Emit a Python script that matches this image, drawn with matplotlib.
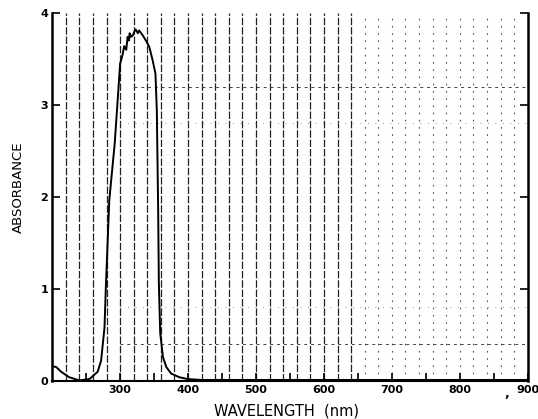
import matplotlib
matplotlib.use("Agg")
import matplotlib.pyplot as plt

# absorbance spectrum
wavelength = [200, 206, 213, 225, 240, 255, 267, 272, 277, 279, 284, 292, 297, 300,
              302, 304, 306, 309, 311, 313, 314, 316, 319, 321, 323, 326, 328, 330,
              333, 338, 343, 348, 352, 354, 356, 357, 359, 363, 368, 375, 387, 399,
              420, 500, 600, 700, 800, 900]
absorbance = [0.16, 0.15, 0.10, 0.04, 0.005, 0.02, 0.10, 0.22, 0.58, 1.02, 1.96, 2.58, 3.12, 3.45,
              3.50, 3.56, 3.64, 3.60, 3.74, 3.70, 3.78, 3.74, 3.76, 3.80, 3.82, 3.78, 3.81, 3.79,
              3.76, 3.70, 3.63, 3.48, 3.34, 2.94, 1.85, 1.06, 0.52, 0.26, 0.15, 0.08, 0.04, 0.02,
              0.01, 0.01, 0.01, 0.01, 0.01, 0.01]

x_ticks = [300, 400, 500, 600, 700, 800, 900]
x_minor = [250, 350, 450, 550, 650, 750, 850]
y_ticks = [0, 1, 2, 3, 4]
grid_dark = [220, 240, 260, 280, 300, 320, 340, 360, 380, 400, 420, 440, 460, 480,
             500, 520, 540, 560, 580, 600, 620, 640]
grid_faint = [660, 680, 700, 720, 740, 760, 780, 800, 820, 840, 860, 880]

fig = plt.figure(figsize=(5.38, 4.19), dpi=100)
ax = fig.add_axes([0.097, 0.091, 0.884, 0.878])

# chart-paper grid, as it came out of the copier
for g in grid_dark:
    ax.axvline(g, color="#222222", lw=0.9, ls=(0, (6, 1.5)), zorder=1)
for g in grid_faint:
    ax.axvline(g, color="#555555", lw=0.8, ls=(0, (1.5, 5)), zorder=1)
ax.plot([320, 900], [3.2, 3.2], color="#444444", lw=0.7, ls=(0, (3, 4)), zorder=1)
ax.plot([300, 900], [0.4, 0.4], color="#444444", lw=0.7, ls=(0, (3, 4)), zorder=1)
ax.plot([300, 900], [0.8, 0.8], color="#777777", lw=0.6, ls=(0, (1, 8)), zorder=1)
ax.plot([300, 900], [2.8, 2.8], color="#777777", lw=0.6, ls=(0, (1, 8)), zorder=1)

ax.plot(wavelength, absorbance, color="black", lw=1.4, zorder=3)

ax.set_xlim(200, 900)
ax.set_ylim(0, 4)
ax.set_xticks(x_ticks)
ax.set_xticks(x_minor, minor=True)
ax.set_yticks(y_ticks)
ax.tick_params(axis="both", which="both", direction="in", length=6, width=1.2,
               labelsize=8, pad=3, right=True)
for lab in ax.get_xticklabels() + ax.get_yticklabels():
    lab.set_fontweight("bold")

for side in ["left", "right"]:
    ax.spines[side].set_linewidth(1.8)
ax.spines["bottom"].set_linewidth(1.5)
ax.spines["top"].set_visible(False)

fig.text(286 / 538, 1 - 411 / 419, "WAVELENGTH  (nm)", fontsize=10.5,
         ha="center", va="center")
fig.text(18 / 538, 1 - 187 / 419, "ABSORBANCE", fontsize=9.5, rotation=90,
         ha="center", va="center", family=["Liberation Sans Narrow", "DejaVu Sans"])
fig.text(0.937, 0.052, ",", fontsize=9, fontweight="bold")

fig.savefig("out.png", dpi=100)
